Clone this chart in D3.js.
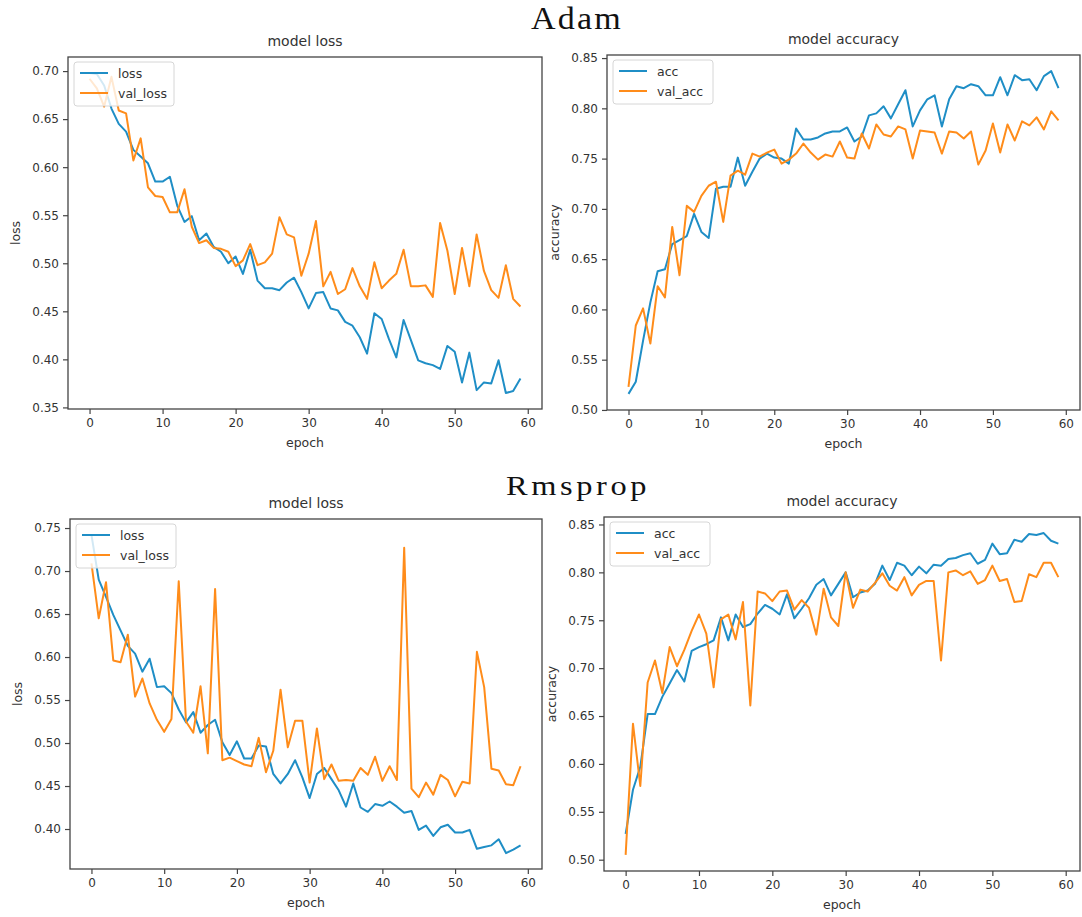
<!DOCTYPE html>
<html>
<head>
<meta charset="utf-8">
<script src="https://cdn.jsdelivr.net/npm/d3@7/dist/d3.min.js"></script>
<style>
  body { margin: 0; background: #ffffff; }
  svg text { font-family: "DejaVu Sans", sans-serif; fill: #333; }
</style>
</head>
<body>
<div id="chart"></div>
<script>

///////////////////////////////////////////////////////////////////////////////////////////////////
// values

var adam_loss = [0.698, 0.697, 0.685, 0.661, 0.645, 0.637, 0.618, 0.611, 0.604, 0.585,
                 0.585, 0.590, 0.560, 0.543, 0.549, 0.524, 0.531, 0.517, 0.512, 0.500,
                 0.507, 0.489, 0.514, 0.482, 0.474, 0.474, 0.472, 0.480, 0.485, 0.470,
                 0.453, 0.469, 0.470, 0.453, 0.451, 0.439, 0.435, 0.423, 0.406, 0.448,
                 0.442, 0.421, 0.402, 0.441, 0.420, 0.399, 0.396, 0.394, 0.390, 0.414,
                 0.408, 0.376, 0.407, 0.368, 0.376, 0.375, 0.399, 0.365, 0.367, 0.380];

var adam_val_loss = [0.692, 0.682, 0.663, 0.694, 0.659, 0.656, 0.607, 0.630, 0.579, 0.570,
                     0.569, 0.553, 0.553, 0.577, 0.538, 0.521, 0.524, 0.516, 0.515, 0.512,
                     0.497, 0.503, 0.520, 0.498, 0.501, 0.510, 0.548, 0.530, 0.527, 0.487,
                     0.510, 0.544, 0.476, 0.491, 0.468, 0.473, 0.495, 0.476, 0.463, 0.501,
                     0.474, 0.482, 0.489, 0.514, 0.476, 0.476, 0.477, 0.465, 0.542, 0.513,
                     0.468, 0.516, 0.476, 0.530, 0.492, 0.472, 0.464, 0.498, 0.463, 0.455];

var adam_acc = [0.516, 0.528, 0.569, 0.607, 0.638, 0.640, 0.665, 0.669, 0.673, 0.695,
                0.677, 0.671, 0.720, 0.722, 0.722, 0.751, 0.723, 0.737, 0.750, 0.755,
                0.751, 0.750, 0.745, 0.780, 0.769, 0.769, 0.771, 0.775, 0.777, 0.777,
                0.781, 0.767, 0.772, 0.793, 0.795, 0.802, 0.790, 0.804, 0.818, 0.782,
                0.798, 0.809, 0.813, 0.782, 0.809, 0.822, 0.820, 0.824, 0.822, 0.813,
                0.813, 0.831, 0.813, 0.833, 0.828, 0.829, 0.818, 0.832, 0.837, 0.820];

var adam_val_acc = [0.523, 0.584, 0.601, 0.566, 0.623, 0.612, 0.682, 0.634, 0.703, 0.697,
                    0.713, 0.723, 0.727, 0.687, 0.733, 0.738, 0.734, 0.755, 0.752, 0.756,
                    0.759, 0.745, 0.749, 0.755, 0.765, 0.756, 0.749, 0.754, 0.752, 0.767,
                    0.751, 0.750, 0.775, 0.760, 0.784, 0.774, 0.772, 0.782, 0.779, 0.750,
                    0.778, 0.777, 0.776, 0.755, 0.777, 0.776, 0.770, 0.777, 0.744, 0.758,
                    0.785, 0.756, 0.784, 0.768, 0.787, 0.783, 0.791, 0.779, 0.797, 0.788];

var rms_loss = [0.742, 0.690, 0.670, 0.649, 0.631, 0.613, 0.604, 0.583, 0.598, 0.565,
                0.566, 0.558, 0.539, 0.524, 0.536, 0.512, 0.521, 0.527, 0.501, 0.486,
                0.502, 0.482, 0.482, 0.497, 0.496, 0.464, 0.453, 0.464, 0.480, 0.460,
                0.436, 0.464, 0.471, 0.458, 0.445, 0.426, 0.453, 0.425, 0.420, 0.429,
                0.427, 0.432, 0.426, 0.419, 0.421, 0.399, 0.404, 0.392, 0.402, 0.405,
                0.396, 0.396, 0.399, 0.377, 0.379, 0.381, 0.388, 0.372, 0.376, 0.381];

var rms_val_loss = [0.709, 0.645, 0.687, 0.596, 0.594, 0.626, 0.554, 0.575, 0.546, 0.527,
                    0.513, 0.528, 0.688, 0.525, 0.512, 0.566, 0.488, 0.679, 0.480, 0.483,
                    0.479, 0.475, 0.473, 0.506, 0.466, 0.491, 0.562, 0.495, 0.526, 0.526,
                    0.454, 0.517, 0.458, 0.475, 0.456, 0.457, 0.456, 0.471, 0.463, 0.484,
                    0.456, 0.473, 0.457, 0.727, 0.447, 0.437, 0.454, 0.440, 0.463, 0.457,
                    0.438, 0.455, 0.453, 0.606, 0.565, 0.470, 0.468, 0.452, 0.451, 0.473];

var rms_acc = [0.527, 0.573, 0.597, 0.652, 0.652, 0.670, 0.684, 0.698, 0.686, 0.718,
               0.722, 0.725, 0.729, 0.753, 0.729, 0.756, 0.743, 0.746, 0.757, 0.766,
               0.762, 0.756, 0.777, 0.752, 0.762, 0.773, 0.787, 0.793, 0.776, 0.788,
               0.800, 0.774, 0.779, 0.781, 0.788, 0.807, 0.792, 0.810, 0.807, 0.797,
               0.806, 0.799, 0.808, 0.807, 0.814, 0.815, 0.818, 0.820, 0.809, 0.813,
               0.830, 0.819, 0.820, 0.834, 0.832, 0.840, 0.839, 0.841, 0.833, 0.830];

var rms_val_acc = [0.505, 0.642, 0.577, 0.685, 0.708, 0.674, 0.722, 0.702, 0.719, 0.739,
                   0.756, 0.736, 0.680, 0.751, 0.756, 0.730, 0.769, 0.661, 0.780, 0.778,
                   0.770, 0.780, 0.781, 0.761, 0.771, 0.763, 0.735, 0.783, 0.753, 0.744,
                   0.800, 0.763, 0.782, 0.780, 0.789, 0.799, 0.786, 0.781, 0.795, 0.776,
                   0.787, 0.791, 0.791, 0.708, 0.800, 0.802, 0.797, 0.801, 0.788, 0.792,
                   0.807, 0.791, 0.793, 0.769, 0.770, 0.798, 0.795, 0.810, 0.810, 0.795];

var epoch_ticks    = [0, 10, 20, 30, 40, 50, 60];
var loss_ticks     = [0.35, 0.40, 0.45, 0.50, 0.55, 0.60, 0.65, 0.70, 0.75];
var accuracy_ticks = [0.50, 0.55, 0.60, 0.65, 0.70, 0.75, 0.80, 0.85];

var train_color = "#1f8ec6";
var val_color   = "#ff8c1a";

///////////////////////////////////////////////////////////////////////////////////////////////////

var svg = d3.select("#chart")
  .append("svg")
    .attr("width", 1082)
    .attr("height", 917);

svg.append("rect")
    .attr("width", 1082)
    .attr("height", 917)
    .attr("fill", "#ffffff");

///////////////////////////////////////////////////////////////////////////////////////////////////

function draw_history_panel(svg, options) {
    //////////////////////////////////////////////////////////////////////
    //
    // Draws one keras-style history plot (train + validation curves)
    // inside the box options.left/top/right/bottom
    //
    //////////////////////////////////////////////////////////////////////
    let g = svg.append("g");
    let n = options.train.length;

    // matplotlib style autoscale: 5% margin on each side
    let x = d3.scaleLinear()
        .domain([-(n - 1) * 0.05, (n - 1) * 1.05])
        .range([options.left, options.right]);

    let all_values = options.train.concat(options.val);
    let y_min = d3.min(all_values), y_max = d3.max(all_values);
    let pad = (y_max - y_min) * 0.05;
    let y = d3.scaleLinear()
        .domain([y_min - pad, y_max + pad])
        .range([options.bottom, options.top]);

    let y_ticks = options.y_ticks.filter(function(t) {
        return t >= y.domain()[0] && t <= y.domain()[1];
    });

    // axes
    let x_axis = g.append("g")
        .attr("transform", "translate(0," + options.bottom + ")")
        .call(d3.axisBottom(x).tickValues(epoch_ticks).tickSize(5).tickPadding(4).tickFormat(d3.format("d")));
    let y_axis = g.append("g")
        .attr("transform", "translate(" + options.left + ",0)")
        .call(d3.axisLeft(y).tickValues(y_ticks).tickSize(5).tickPadding(4).tickFormat(d3.format(".2f")));

    [x_axis, y_axis].forEach(function(a) {
        a.select(".domain").remove();
        a.selectAll(".tick line").attr("stroke", "#444").attr("stroke-width", 1.2);
        a.selectAll(".tick text")
            .style("font-family", "'DejaVu Sans', sans-serif")
            .style("font-size", "12px")
            .attr("fill", "#333");
    });

    // curves
    let line = d3.line()
        .x(function(d, i) { return x(i); })
        .y(function(d) { return y(d); });

    g.append("path")
        .datum(options.train)
        .attr("d", line)
        .attr("fill", "none")
        .attr("stroke", train_color)
        .attr("stroke-width", 2)
        .attr("stroke-linejoin", "round");

    g.append("path")
        .datum(options.val)
        .attr("d", line)
        .attr("fill", "none")
        .attr("stroke", val_color)
        .attr("stroke-width", 2)
        .attr("stroke-linejoin", "round");

    // frame
    g.append("rect")
        .attr("x", options.left)
        .attr("y", options.top)
        .attr("width", options.right - options.left)
        .attr("height", options.bottom - options.top)
        .attr("fill", "none")
        .attr("stroke", "#444")
        .attr("stroke-width", 1.3);

    // legend (upper left)
    let lx = options.left + 6, ly = options.top + 5;
    g.append("rect")
        .attr("x", lx)
        .attr("y", ly)
        .attr("width", 100)
        .attr("height", 44)
        .attr("rx", 3)
        .attr("fill", "#ffffff")
        .attr("fill-opacity", 0.8)
        .attr("stroke", "#d6d6d6");
    [[options.names[0], train_color], [options.names[1], val_color]].forEach(function(item, i) {
        let yy = ly + 11 + i * 20;
        g.append("line")
            .attr("x1", lx + 6).attr("x2", lx + 34)
            .attr("y1", yy).attr("y2", yy)
            .attr("stroke", item[1])
            .attr("stroke-width", 2);
        g.append("text")
            .attr("x", lx + 44)
            .attr("y", yy + 4.5)
            .style("font-size", "12.5px")
            .text(item[0]);
    });

    // titles and labels
    let cx = (options.left + options.right) / 2;
    g.append("text")
        .attr("x", cx)
        .attr("y", options.top - 11)
        .attr("text-anchor", "middle")
        .style("font-size", "14px")
        .text(options.title);

    g.append("text")
        .attr("x", cx)
        .attr("y", options.bottom + 38)
        .attr("text-anchor", "middle")
        .style("font-size", "12.5px")
        .text("epoch");

    g.append("text")
        .attr("transform", "translate(" + (options.left - 48) + "," + ((options.top + options.bottom) / 2) + ") rotate(-90)")
        .attr("text-anchor", "middle")
        .style("font-size", "12.5px")
        .text(options.y_label);

} // end function

///////////////////////////////////////////////////////////////////////////////////////////////////

draw_history_panel(svg, { train: adam_loss, val: adam_val_loss, names: ["loss", "val_loss"],
    title: "model loss", y_label: "loss", y_ticks: loss_ticks,
    left: 68, top: 57, right: 542, bottom: 409 });

draw_history_panel(svg, { train: adam_acc, val: adam_val_acc, names: ["acc", "val_acc"],
    title: "model accuracy", y_label: "accuracy", y_ticks: accuracy_ticks,
    left: 607, top: 55, right: 1080, bottom: 410 });

draw_history_panel(svg, { train: rms_loss, val: rms_val_loss, names: ["loss", "val_loss"],
    title: "model loss", y_label: "loss", y_ticks: loss_ticks,
    left: 70, top: 519, right: 542, bottom: 869 });

draw_history_panel(svg, { train: rms_acc, val: rms_val_acc, names: ["acc", "val_acc"],
    title: "model accuracy", y_label: "accuracy", y_ticks: accuracy_ticks,
    left: 604, top: 517, right: 1080, bottom: 871 });

// optimizer headings (wide serif lettering, stretched to the reference width)
svg.append("text")
    .attr("x", 531)
    .attr("y", 29)
    .attr("textLength", 92)
    .attr("lengthAdjust", "spacingAndGlyphs")
    .style("font-family", "'Liberation Serif', serif")
    .style("font-size", "31px")
    .style("letter-spacing", "2px")
    .style("fill", "#111")
    .text("Adam");

svg.append("text")
    .attr("x", 506)
    .attr("y", 495)
    .attr("textLength", 144)
    .attr("lengthAdjust", "spacingAndGlyphs")
    .style("font-family", "'Liberation Serif', serif")
    .style("font-size", "27px")
    .style("letter-spacing", "3px")
    .style("fill", "#111")
    .text("Rmsprop");

</script>
</body>
</html>
